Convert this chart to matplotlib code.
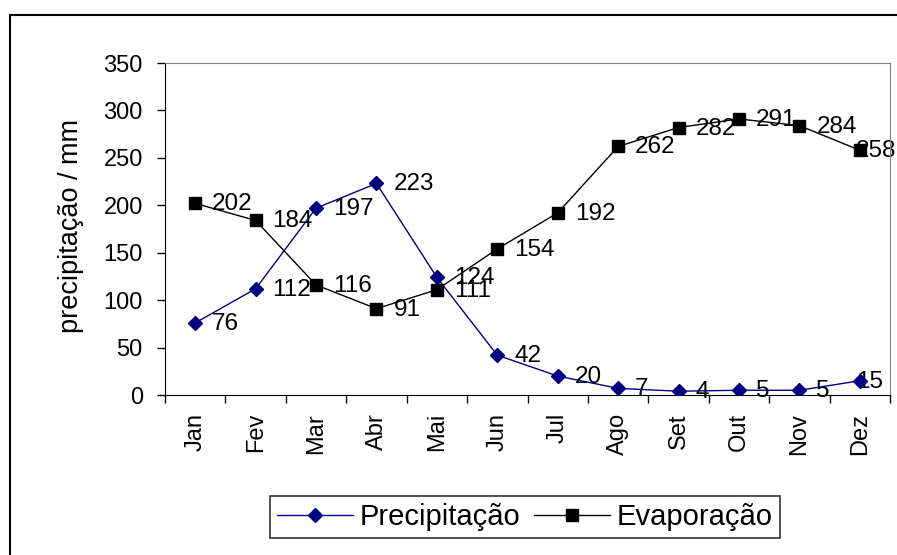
import matplotlib.pyplot as plt
from matplotlib.patches import Rectangle

plt.rcParams['font.family'] = ['Liberation Sans', 'DejaVu Sans']

meses = ['Jan', 'Fev', 'Mar', 'Abr', 'Mai', 'Jun', 'Jul', 'Ago', 'Set', 'Out', 'Nov', 'Dez']
precipitacao = [76, 112, 197, 223, 124, 42, 20, 7, 4, 5, 5, 15]
evaporacao = [202, 184, 116, 91, 111, 154, 192, 262, 282, 291, 284, 258]

fig = plt.figure(figsize=(8.97, 5.55), dpi=100)
# outer chart border (Excel style)
fig.patches.append(Rectangle((10 / 897, -0.1), 1.2, 1 - 15 / 555 + 0.1,
                             transform=fig.transFigure, fill=False,
                             edgecolor='black', linewidth=1.5))

ax = fig.add_axes([165 / 897, 1 - 395 / 555, (890 - 165) / 897, (395 - 63) / 555])
x = list(range(len(meses)))

l1, = ax.plot(x, precipitacao, color='#000080', marker='D', markersize=7,
              linewidth=1, label='Precipitação', zorder=3)
l2, = ax.plot(x, evaporacao, color='black', marker='s', markersize=8.5,
              linewidth=1, label='Evaporação', zorder=3)

for i in x:
    dx = 17 if i < len(meses) - 1 else -4  # last labels pushed left by the edge
    for serie in (precipitacao, evaporacao):
        ax.annotate(str(serie[i]), (i, serie[i]), xytext=(dx, -1),
                    textcoords='offset pixels', va='center', ha='left',
                    fontsize=17.5, zorder=1, annotation_clip=False)

ax.set_xlim(-0.5, len(meses) - 0.5)
ax.set_ylim(0, 350)
ax.set_yticks(range(0, 351, 50))
ax.tick_params(axis='y', labelsize=17, direction='out', length=6, width=1, pad=10)

ax.set_xticks([i - 0.5 for i in range(len(meses) + 1)])
ax.set_xticklabels([])
ax.set_xticks(x, minor=True)
ax.set_xticklabels(meses, minor=True, rotation=90, fontsize=17)
ax.tick_params(axis='x', which='major', direction='out', length=6, width=1)
ax.tick_params(axis='x', which='minor', length=0, pad=13)

ax.set_ylabel('precipitação / mm', fontsize=19.5)
ax.yaxis.set_label_coords(-0.112, 0.51)

for s in ['top', 'right']:
    ax.spines[s].set_color('#808080')
for s in ['left', 'bottom']:
    ax.spines[s].set_color('black')

leg = fig.legend(handles=[l1, l2], loc='center', bbox_to_anchor=(525 / 897, 1 - 517 / 555),
                 ncol=2, fontsize=21, frameon=True, fancybox=False, edgecolor='black',
                 handlelength=2.6, columnspacing=0.45, handletextpad=0.25, borderpad=0.25)
leg.get_frame().set_linewidth(1.2)

fig.savefig('out.png', dpi=100)
